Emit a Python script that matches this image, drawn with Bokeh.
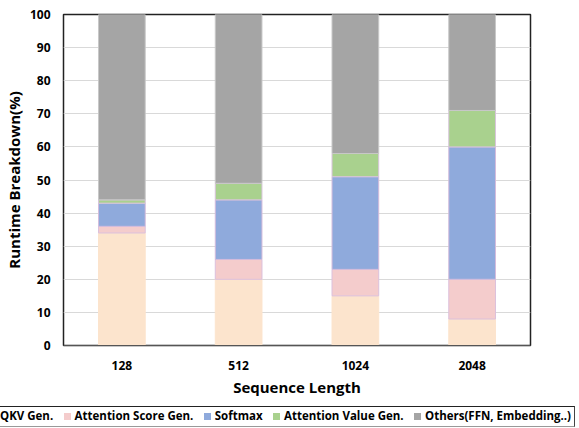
from bokeh.plotting import figure
from bokeh.models import FixedTicker, Div
from bokeh.layouts import column
from bokeh.embed import file_html
from bokeh.resources import INLINE

seq_lengths = ["128", "512", "1024", "2048"]
qkv_gen = [34, 20, 15, 8]
attn_score_gen = [2, 6, 8, 12]
softmax = [7, 18, 28, 40]
attn_value_gen = [1, 5, 7, 11]
others = [56, 51, 42, 29]

series_names = ["QKV Gen.", "Attention Score Gen.", "Softmax", "Attention Value Gen.", "Others(FFN, Embedding..)"]
keys = ["qkv", "score", "softmax", "value", "others"]
colors = ["#FCE4CD", "#F4CCCC", "#8FAADC", "#A9D18E", "#A5A5A5"]
line_colors = ["#FCE4CD", "#DCC0DC", "#D4BCDC", "#D8C4DC", "#C8C8C8"]

data = dict(x=seq_lengths, qkv=qkv_gen, score=attn_score_gen, softmax=softmax,
            value=attn_value_gen, others=others)

FONT = "Open Sans"

p = figure(x_range=seq_lengths, y_range=(0, 100), width=579, height=404,
           output_backend="svg", toolbar_location=None,
           min_border_left=63, min_border_right=49, min_border_top=14, min_border_bottom=59)

renderers = p.vbar_stack(keys, x="x", width=0.4, color=colors, line_color=line_colors,
                         line_width=1, source=data)

p.outline_line_color = "#222222"
p.outline_line_width = 1.5
p.background_fill_color = "white"
p.border_fill_color = "white"

p.xgrid.grid_line_color = None
p.ygrid.grid_line_color = "#D9D9D9"
p.ygrid.grid_line_width = 1
p.yaxis.ticker = FixedTicker(ticks=list(range(0, 101, 10)))

for ax in (p.xaxis[0], p.yaxis[0]):
    ax.major_tick_line_color = None
    ax.minor_tick_line_color = None
    ax.major_tick_out = 0
    ax.major_tick_in = 0
    ax.minor_tick_out = 0
    ax.minor_tick_in = 0
    ax.major_label_text_font = FONT
    ax.major_label_text_font_style = "bold"
    ax.major_label_text_font_size = "12px"
    ax.major_label_text_color = "#000000"
    ax.axis_label_text_font = FONT
    ax.axis_label_text_font_style = "bold"
    ax.axis_label_text_color = "#000000"
    ax.axis_label_text_font_size = "15px"

p.yaxis.axis_line_color = None
p.xaxis.axis_line_color = "#555555"
p.yaxis.axis_label = "Runtime Breakdown(%)"
p.yaxis.major_label_standoff = 13
p.yaxis.axis_label_standoff = 3
p.xaxis.axis_label = "Sequence Length"
p.xaxis.major_label_standoff = 15
p.xaxis.axis_label_standoff = 4

# Legend strip as HTML (left-most swatch is cut off by the page edge, as in the source)
item_html = "".join(
    '<span style="display:inline-flex;align-items:center;white-space:nowrap;">'
    f'<span style="display:inline-block;width:7px;height:7px;background:{c};margin-right:4px;"></span>'
    f'{n}</span>'
    for n, c in zip(series_names, colors)
)
legend_html = (
    '<div style="position:relative;width:579px;height:24px;overflow:hidden;background:#fff;">'
    '<div style="position:absolute;left:-17px;top:2px;width:592px;height:21px;box-sizing:border-box;'
    'border-top:1.5px solid #222;border-right:1.5px solid #444;border-bottom:1px solid #999;'
    'display:flex;justify-content:space-between;align-items:center;padding:0 3px 0 6px;'
    f'font-family:\'{FONT}\';font-weight:bold;font-size:11.5px;color:#000;">'
    f'{item_html}</div></div>'
)
legend_div = Div(text=legend_html, width=579, height=24, margin=0)

layout = column(p, legend_div, spacing=0)
open("out.html", "w").write(file_html(layout, INLINE))
